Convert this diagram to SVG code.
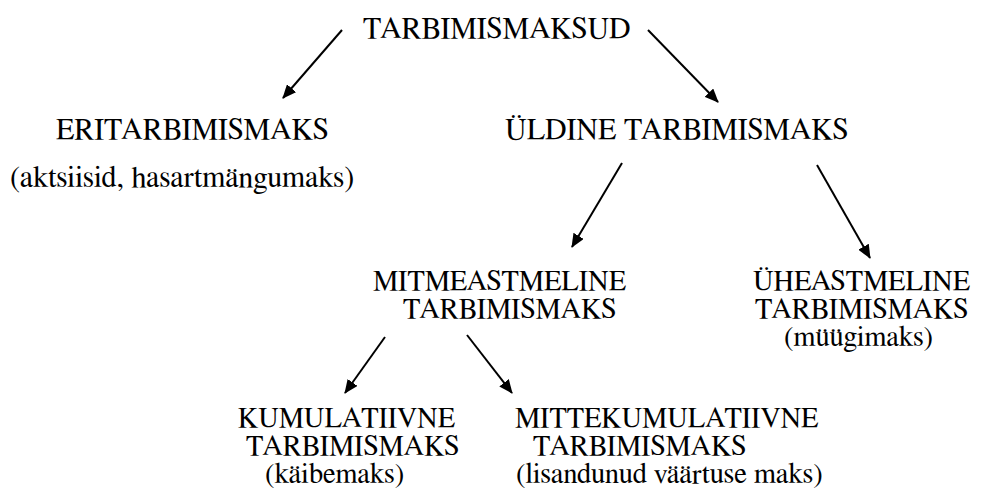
<svg xmlns="http://www.w3.org/2000/svg" width="982" height="498" viewBox="0 0 982 498">
<style>
text{font-family:FreeSerif,"Noto Serif","DejaVu Serif",serif;font-size:30px;fill:#000}
.s{font-size:28.5px}
.c{stroke:#000;stroke-width:2;fill:none}
</style>
<defs>
<marker id="ah" viewBox="0 0 14 12" refX="13" refY="6" markerWidth="14" markerHeight="12" markerUnits="userSpaceOnUse" orient="auto">
<path d="M0,0 L14,6 L0,12 z" fill="#000"/>
</marker>
</defs>
<rect width="982" height="498" fill="#fff"/>
<g id="connectors">
<line class="c" x1="342" y1="30" x2="283" y2="98" marker-end="url(#ah)"/>
<line class="c" x1="648" y1="30" x2="718" y2="102" marker-end="url(#ah)"/>
<line class="c" x1="622" y1="163" x2="572" y2="247" marker-end="url(#ah)"/>
<line class="c" x1="817" y1="165" x2="870" y2="258" marker-end="url(#ah)"/>
<line class="c" x1="385" y1="337" x2="345" y2="393" marker-end="url(#ah)"/>
<line class="c" x1="467" y1="335" x2="512" y2="393" marker-end="url(#ah)"/>
</g>
<g id="root"><text x="363" y="38">TARBIMISMAKSUD</text></g>
<g id="eri"><text x="56" y="139">ERITARBIMISMAKS</text><text x="10" y="187">(aktsiisid, hasartmängumaks)</text></g>
<g id="yldine"><text x="505" y="139">ÜLDINE TARBIMISMAKS</text></g>
<g id="mitmeastmeline"><text class="s" x="373" y="290">MITMEASTMELINE</text><text class="s" x="403" y="318">TARBIMISMAKS</text></g>
<g id="yheastmeline"><text class="s" x="753" y="290">ÜHEASTMELINE</text><text class="s" x="755" y="318">TARBIMISMAKS</text><text class="s" x="784" y="346">(müügimaks)</text></g>
<g id="kumulatiivne"><text class="s" x="238" y="427">KUMULATIIVNE</text><text class="s" x="246" y="455">TARBIMISMAKS</text><text class="s" x="265" y="483">(käibemaks)</text></g>
<g id="mittekumulatiivne"><text class="s" x="515" y="427">MITTEKUMULATIIVNE</text><text class="s" x="533" y="455">TARBIMISMAKS</text><text class="s" x="516" y="483">(lisandunud väärtuse maks)</text></g>
</svg>
